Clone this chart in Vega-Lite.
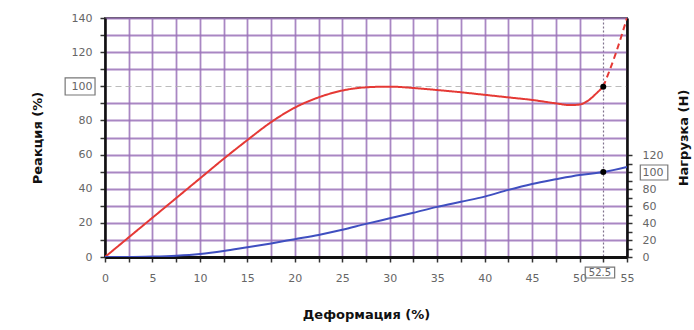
{
  "$schema": "https://vega.github.io/schema/vega-lite/v6.json",
  "width": 522,
  "height": 239,
  "autosize": "none",
  "padding": {"left": 105, "top": 18, "right": 67, "bottom": 73},
  "background": "white",
  "config": {
    "view": {"stroke": "#555555", "strokeWidth": 2},
    "font": "DejaVu Sans"
  },
  "datasets": {
    "reaction": [
      {"x": 0, "y": 0, "part": "measured"},
      {"x": 2.5, "y": 11.5, "part": "measured"},
      {"x": 5, "y": 23, "part": "measured"},
      {"x": 7.5, "y": 34.5, "part": "measured"},
      {"x": 10, "y": 46, "part": "measured"},
      {"x": 12.5, "y": 57.5, "part": "measured"},
      {"x": 15, "y": 68.5, "part": "measured"},
      {"x": 17.5, "y": 79, "part": "measured"},
      {"x": 20, "y": 87.5, "part": "measured"},
      {"x": 22.5, "y": 93.5, "part": "measured"},
      {"x": 25, "y": 97.5, "part": "measured"},
      {"x": 27.5, "y": 99.4, "part": "measured"},
      {"x": 30, "y": 99.8, "part": "measured"},
      {"x": 32.5, "y": 99, "part": "measured"},
      {"x": 35, "y": 97.8, "part": "measured"},
      {"x": 37.5, "y": 96.5, "part": "measured"},
      {"x": 40, "y": 95, "part": "measured"},
      {"x": 42.5, "y": 93.5, "part": "measured"},
      {"x": 45, "y": 92, "part": "measured"},
      {"x": 47.5, "y": 90, "part": "measured"},
      {"x": 49, "y": 89, "part": "measured"},
      {"x": 50, "y": 89.3, "part": "measured"},
      {"x": 51, "y": 92, "part": "measured"},
      {"x": 51.8, "y": 96, "part": "measured"},
      {"x": 52.5, "y": 99.8, "part": "measured"},
      {"x": 52.5, "y": 99.8, "part": "extrapolated"},
      {"x": 53.8, "y": 119, "part": "extrapolated"},
      {"x": 55, "y": 140, "part": "extrapolated"}
    ],
    "force": [
      {"x": 0, "y": 0},
      {"x": 2.5, "y": 0},
      {"x": 5, "y": 0.5},
      {"x": 7.5, "y": 1.5},
      {"x": 10, "y": 3.5},
      {"x": 12.5, "y": 7},
      {"x": 15, "y": 11.5},
      {"x": 17.5, "y": 16},
      {"x": 20, "y": 21},
      {"x": 22.5, "y": 26},
      {"x": 25, "y": 32},
      {"x": 27.5, "y": 39},
      {"x": 30, "y": 45.5},
      {"x": 32.5, "y": 52},
      {"x": 35, "y": 59},
      {"x": 37.5, "y": 65},
      {"x": 40, "y": 71},
      {"x": 42.5, "y": 79},
      {"x": 45, "y": 86},
      {"x": 47.5, "y": 91.5},
      {"x": 50, "y": 96.5},
      {"x": 52.5, "y": 100},
      {"x": 55, "y": 106}
    ],
    "reactionMarker": [{"x": 52.5, "y": 99.8}],
    "forceMarker": [{"x": 52.5, "y": 100}],
    "boxes": [
      {"x": -4.2, "x2": -1.05, "y": 94.9, "y2": 104.9},
      {"x": 56.4, "x2": 59.3, "y": 45.1, "y2": 53.9},
      {"x": 50.6, "x2": 53.7, "y": -12.3, "y2": -5.9}
    ],
    "notes": [{"x": 52.15, "y": -9.1, "label": "52.5"}]
  },
  "encoding": {
    "x": {
      "field": "x",
      "type": "quantitative",
      "scale": {"domain": [0, 55], "nice": false, "zero": false},
      "axis": {
        "title": "Деформация (%)",
        "values": [0, 2.5, 5, 7.5, 10, 12.5, 15, 17.5, 20, 22.5, 25, 27.5, 30, 32.5, 35, 37.5, 40, 42.5, 45, 47.5, 50, 52.5, 55],
        "labelExpr": "datum.value % 5 === 0 ? datum.label : ''",
        "labelFlush": false,
        "labelOverlap": false,
        "labelFontSize": 11,
        "labelColor": "#666666",
        "labelPadding": 10,
        "tickSize": 5,
        "tickColor": "#333333",
        "tickWidth": 1.5,
        "domainColor": "#111111",
        "domainWidth": 3,
        "grid": true,
        "gridColor": {"condition": {"test": "datum.value === 52.5", "value": "#6a5a7a"}, "value": "#9a72b8"},
        "gridDash": {"condition": {"test": "datum.value === 52.5", "value": [2, 2]}, "value": []},
        "gridWidth": {"condition": {"test": "datum.value === 52.5", "value": 1.2}, "value": 1.8},
        "gridOpacity": 0.85,
        "titleFontSize": 13,
        "titleFontWeight": "bold",
        "titleColor": "#111111",
        "titlePadding": 25
      }
    }
  },
  "layer": [
    {
      "encoding": {
        "y": {
          "field": "y",
          "type": "quantitative",
          "scale": {"domain": [0, 140], "nice": false},
          "axis": {
            "title": "Реакция (%)",
            "values": [0, 10, 20, 30, 40, 50, 60, 70, 80, 90, 100, 110, 120, 130, 140],
            "labelExpr": "datum.value % 20 === 0 ? datum.label : ''",
            "labelFontSize": 11,
            "labelColor": "#666666",
            "labelPadding": 8,
            "tickSize": 5,
            "tickColor": "#333333",
            "tickWidth": 1.5,
            "domainColor": "#111111",
            "domainWidth": 2.5,
            "grid": true,
            "gridColor": {"condition": {"test": "datum.value === 100", "value": "#b0b0b0"}, "value": "#9a72b8"},
            "gridDash": {"condition": {"test": "datum.value === 100", "value": [6, 4]}, "value": []},
            "gridWidth": {"condition": {"test": "datum.value === 100", "value": 1.2}, "value": 1.8},
            "gridOpacity": 0.85,
            "titleFontSize": 13,
            "titleFontWeight": "bold",
            "titleColor": "#111111",
            "titlePadding": 27
          }
        }
      },
      "layer": [
        {
          "data": {"name": "reaction"},
          "mark": {"type": "line", "interpolate": "monotone", "strokeWidth": 2, "color": "#e53935", "clip": true},
          "encoding": {
            "detail": {"field": "part"},
            "strokeDash": {
              "field": "part",
              "type": "nominal",
              "scale": {"domain": ["measured", "extrapolated"], "range": [[1, 0], [6, 4]]},
              "legend": null
            }
          }
        },
        {
          "data": {"name": "reactionMarker"},
          "mark": {"type": "point", "filled": true, "size": 36, "color": "#000000", "opacity": 1}
        },
        {
          "data": {"name": "boxes"},
          "mark": {"type": "rect", "fill": "white", "fillOpacity": 0, "stroke": "#777777", "strokeWidth": 1.2},
          "encoding": {"x2": {"field": "x2"}, "y2": {"field": "y2"}}
        },
        {
          "data": {"name": "notes"},
          "mark": {"type": "text", "fontSize": 10, "color": "#666666", "baseline": "middle", "align": "center"},
          "encoding": {"text": {"field": "label"}}
        }
      ]
    },
    {
      "encoding": {
        "y": {
          "field": "y",
          "type": "quantitative",
          "scale": {"domain": [0, 281.2], "nice": false},
          "axis": {
            "orient": "right",
            "title": "Нагрузка (Н)",
            "titleAngle": -90,
            "values": [0, 10, 20, 30, 40, 50, 60, 70, 80, 90, 100, 110, 120],
            "labelExpr": "datum.value % 20 === 0 ? datum.label : ''",
            "labelFontSize": 11,
            "labelColor": "#666666",
            "labelPadding": 10,
            "tickSize": 5,
            "tickColor": "#333333",
            "tickWidth": 1.5,
            "domainColor": "#111111",
            "domainWidth": 2.5,
            "grid": false,
            "titleFontSize": 13,
            "titleFontWeight": "bold",
            "titleColor": "#111111",
            "titlePadding": 28
          }
        }
      },
      "layer": [
        {
          "data": {"name": "force"},
          "mark": {"type": "line", "interpolate": "monotone", "strokeWidth": 2, "color": "#3f4fc0", "clip": true}
        },
        {
          "data": {"name": "forceMarker"},
          "mark": {"type": "point", "filled": true, "size": 36, "color": "#000000", "opacity": 1}
        }
      ]
    }
  ],
  "resolve": {"scale": {"y": "independent"}}
}
